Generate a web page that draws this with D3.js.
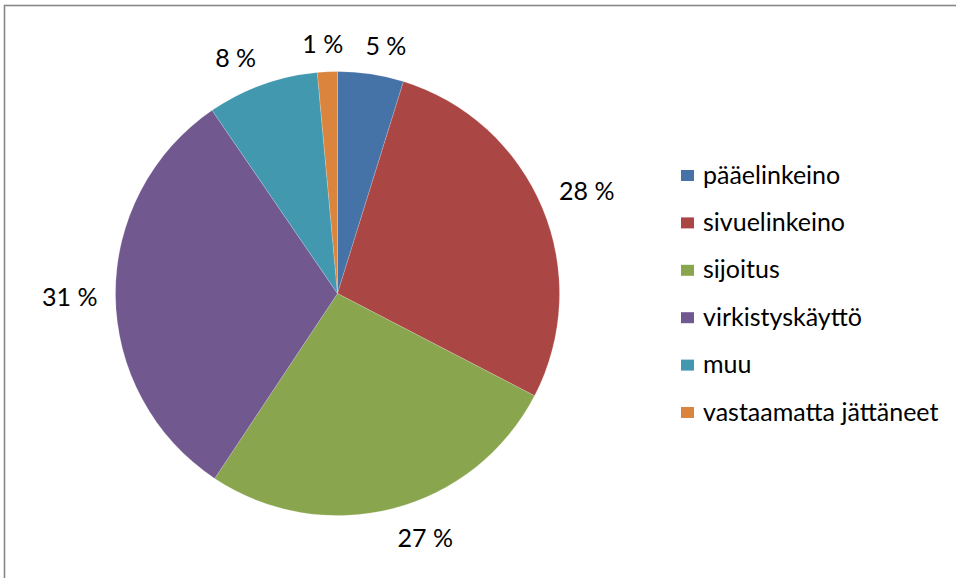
<!DOCTYPE html>
<html lang="fi">
<head>
    <meta charset="utf-8">
    <title>Pie</title>
    <style>
        body { margin: 0; background: #fff; }
        svg text { font-family: Lato, "Open Sans", sans-serif; fill: #000; }
    </style>
    <script src="https://d3js.org/d3.v7.min.js"></script>
</head>
<body>
    <div class="chart"></div>
    <script>
        // chart data
        const categories = ["pääelinkeino", "sivuelinkeino", "sijoitus", "virkistyskäyttö", "muu", "vastaamatta jättäneet"];
        const shares = [4.8, 27.8, 26.7, 31.1, 8.1, 1.45];
        const colors = ["#4572A7", "#AA4643", "#89A54E", "#71588F", "#4198AF", "#DB843D"];

        const width = 956, height = 578;
        const cx = 337.5, cy = 293.5, radius = 222;
        const fontSize = 25;

        const svg = d3.select(".chart").append("svg")
            .attr("width", width)
            .attr("height", height);

        // chart area frame (only top and left are inside the picture)
        svg.append("rect")
            .attr("x", 4.5).attr("y", 5.5)
            .attr("width", width + 20).attr("height", height + 20)
            .attr("fill", "none")
            .attr("stroke", "#878787")
            .attr("stroke-width", 1.6);

        const total = d3.sum(shares);
        const color = d3.scaleOrdinal().domain(categories).range(colors);

        const pie = d3.pie().sort(null).value(d => d.v);
        const arcs = pie(categories.map((c, i) => ({c: c, v: shares[i]})));
        const arc = d3.arc().innerRadius(0).outerRadius(radius);

        const g = svg.append("g").attr("transform", `translate(${cx},${cy})`);

        g.selectAll("path")
            .data(arcs)
            .enter()
            .append("path")
            .attr("d", arc)
            .attr("fill", d => color(d.data.c))
            .attr("stroke", "#fff")
            .attr("stroke-width", 0.3)
            .attr("stroke-opacity", 0.6);

        // percent labels outside the slices (box pushed off the rim, excel style)
        const pct = d => Math.round(d.data.v / total * 100) + " %";
        const labels = g.selectAll("text.pct")
            .data(arcs)
            .enter()
            .append("text")
            .attr("class", "pct")
            .attr("font-size", fontSize)
            .attr("text-anchor", "middle")
            .attr("dominant-baseline", "central")
            .text(pct);

        labels.each(function(d) {
            const a = (d.startAngle + d.endAngle) / 2;
            const dx = Math.sin(a), dy = -Math.cos(a);
            const w = this.getBBox().width, h = 22;
            const r = radius + 18;
            const ox = Math.sign(dx) * Math.min(1, 4 * Math.abs(dx)) * w / 2;
            const oy = Math.sign(dy) * Math.min(1, 4 * Math.abs(dy)) * h / 2;
            d3.select(this).attr("x", dx * r + ox).attr("y", dy * r + oy);
        });

        // legend
        const legend = svg.append("g").attr("transform", "translate(681,170)");
        const rowH = 47.4;

        legend.selectAll("rect")
            .data(categories)
            .enter()
            .append("rect")
            .attr("x", 0)
            .attr("y", (d, i) => i * rowH)
            .attr("width", 13)
            .attr("height", 11)
            .attr("fill", d => color(d));

        legend.selectAll("text")
            .data(categories)
            .enter()
            .append("text")
            .attr("x", 22)
            .attr("y", (d, i) => i * rowH + 3.5)
            .attr("dominant-baseline", "central")
            .attr("font-size", fontSize)
            .text(d => d);
    </script>
</body>
</html>
